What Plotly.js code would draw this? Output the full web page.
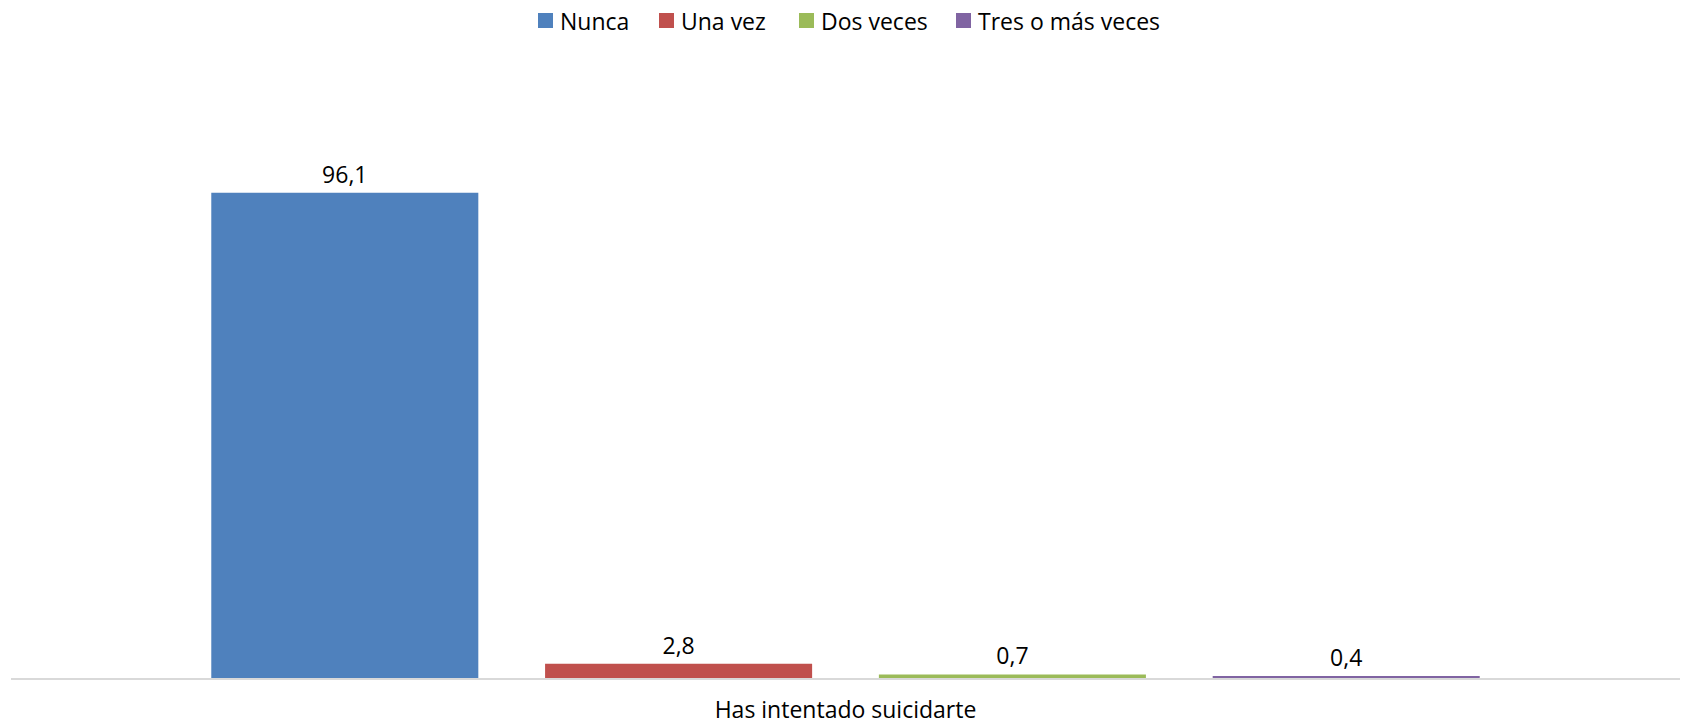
<!DOCTYPE html>
<html>
<head>
<meta charset="utf-8">
<script src="https://cdn.plot.ly/plotly-3.0.1.min.js"></script>
<style>html,body{margin:0;padding:0;background:#fff;}#chart{width:1683px;height:725px;}</style>
</head>
<body>
<div id="chart"></div>
<script>
const categories = ["Has intentado suicidarte"];
const seriesNames = ["Nunca", "Una vez", "Dos veces", "Tres o más veces"];
const nunca = [96.1];
const unaVez = [2.8];
const dosVeces = [0.7];
const tresOMas = [0.4];
const colors = ["#4F81BD", "#C0504D", "#9BBB59", "#8064A2"];

const seriesValues = [nunca, unaVez, dosVeces, tresOMas];
const FONT = "Open Sans, sans-serif";
const FS = 23;

// plot area geometry (pixels) used to place the custom legend
const W = 1683, H = 725;
const M = {l: 11, r: 3, t: 72, b: 47};
const pw = W - M.l - M.r, ph = H - M.t - M.b;
const px2x = px => (px - M.l) / pw;
const py2y = py => (H - M.b - py) / ph;
const legendSquareLeft = [538, 659, 799, 956];
const legendSq = 15, legendY = 20.5;

const traces = seriesValues.map((vals, i) => ({
  type: "bar",
  name: seriesNames[i],
  x: categories,
  y: vals,
  marker: {color: colors[i]},
  texttemplate: "%{y:.1f}",
  textposition: "outside",
  cliponaxis: false,
  textfont: {family: FONT, size: FS, color: "#000"},
  hoverinfo: "skip",
  showlegend: false
}));

const shapes = [], annotations = [];
seriesNames.forEach((name, i) => {
  const x0 = legendSquareLeft[i];
  shapes.push({
    type: "rect", xref: "paper", yref: "paper",
    x0: px2x(x0), x1: px2x(x0 + legendSq),
    y0: py2y(legendY + legendSq / 2), y1: py2y(legendY - legendSq / 2),
    fillcolor: colors[i], line: {width: 0}
  });
  annotations.push({
    xref: "paper", yref: "paper",
    x: px2x(x0 + legendSq + 5), y: py2y(legendY),
    xanchor: "left", yanchor: "middle",
    text: name, showarrow: false,
    font: {family: FONT, size: FS, color: "#000"}
  });
});

const layout = {
  width: W,
  height: H,
  separators: ",.",
  barmode: "group",
  bargap: 0.2,
  bargroupgap: 0.2,
  margin: M,
  paper_bgcolor: "#fff",
  plot_bgcolor: "#fff",
  font: {family: FONT, size: FS, color: "#000"},
  showlegend: false,
  shapes: shapes,
  annotations: annotations,
  xaxis: {
    showline: true,
    linecolor: "#d9d9d9",
    linewidth: 2,
    ticks: "",
    showgrid: false,
    zeroline: false,
    ticklabelstandoff: 10,
    tickfont: {family: FONT, size: FS, color: "#000"}
  },
  yaxis: {
    range: [0, 120],
    visible: false,
    showgrid: false,
    zeroline: false
  }
};

Plotly.newPlot("chart", traces, layout, {displayModeBar: false, staticPlot: true});
</script>
</body>
</html>
